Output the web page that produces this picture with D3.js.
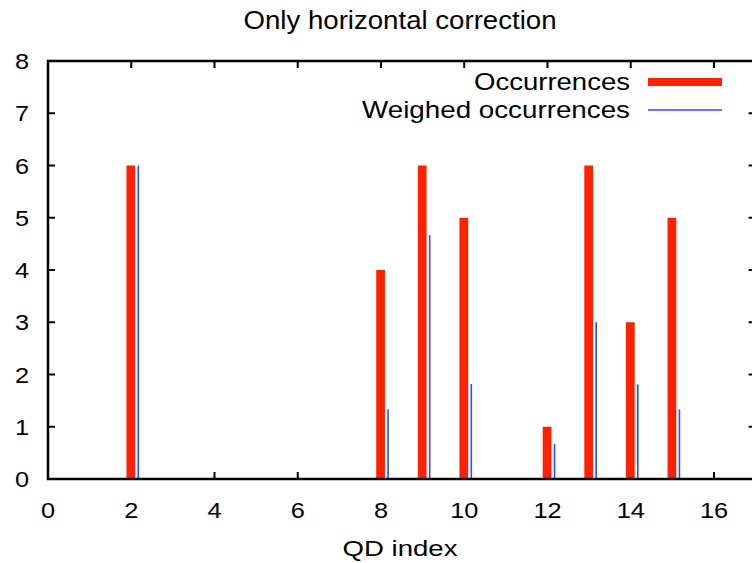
<!DOCTYPE html>
<html><head><meta charset="utf-8">
<script src="https://cdn.jsdelivr.net/npm/d3@7"></script>
<style>body{margin:0;background:#fff}svg{display:block}text{font-family:"Liberation Sans",Arial,sans-serif;fill:#000}</style>
</head><body><svg id="c" width="752" height="563"></svg>
<script>
const qdIndex = [2, 8, 9, 10, 12, 13, 14, 15];
const occurrences = [6, 4, 6, 5, 1, 6, 3, 5];
const weighedOccurrences = [6, 1.333, 4.667, 1.82, 0.667, 3, 1.81, 1.333];
const xTicks = [0, 2, 4, 6, 8, 10, 12, 14, 16];
const yTicks = [0, 1, 2, 3, 4, 5, 6, 7, 8];
const seriesNames = ["Occurrences", "Weighed occurrences"];
const colors = ["#ff2200", "#2a4cff"];

const svg = d3.select("#c");
const L = 48, R = 755.6, T = 61, B = 479;
const x = d3.scaleLinear().domain([0, 17]).range([L, R]);
const y = d3.scaleLinear().domain([0, 8]).range([B, T]);

function stretch(sel, f) {
  sel.each(function () {
    const w = this.getComputedTextLength();
    d3.select(this).attr("textLength", w * f).attr("lengthAdjust", "spacingAndGlyphs");
  });
}

// ticks (inward, mirrored)
const tk = svg.append("g").attr("stroke", "#000").attr("stroke-width", 2);
xTicks.forEach(t => {
  tk.append("line").attr("x1", x(t)).attr("x2", x(t)).attr("y1", B).attr("y2", B - 7);
  tk.append("line").attr("x1", x(t)).attr("x2", x(t)).attr("y1", T).attr("y2", T + 7);
});
yTicks.forEach(t => {
  tk.append("line").attr("x1", L).attr("x2", L + 7).attr("y1", y(t)).attr("y2", y(t));
  tk.append("line").attr("x1", R).attr("x2", R - 7).attr("y1", y(t)).attr("y2", y(t));
});

// bars
const g = svg.append("g");
qdIndex.forEach((c, i) => {
  g.append("rect")
    .attr("x", x(c - 0.115)).attr("width", x(c + 0.095) - x(c - 0.115))
    .attr("y", y(occurrences[i])).attr("height", y(0) - y(occurrences[i]))
    .attr("fill", colors[0]);
  g.append("line")
    .attr("x1", x(c + 0.17)).attr("x2", x(c + 0.17))
    .attr("y1", y(0)).attr("y2", y(weighedOccurrences[i]))
    .attr("stroke", colors[1]).attr("stroke-width", 1.6);
});

svg.append("rect").attr("x", L).attr("y", T).attr("width", R - L).attr("height", B - T)
  .attr("fill", "none").attr("stroke", "#000").attr("stroke-width", 2.5);

// tick labels
const xl = svg.append("g").selectAll("text").data(xTicks).join("text")
  .attr("x", d => x(d)).attr("y", 518).attr("text-anchor", "middle")
  .attr("font-size", 22).text(d => d);
stretch(xl, 1.15);
const yl = svg.append("g").selectAll("text").data(yTicks).join("text")
  .attr("x", 29).attr("y", d => y(d) + 8).attr("text-anchor", "end")
  .attr("font-size", 22).text(d => d);
stretch(yl, 1.15);

// title & axis label
svg.append("text").attr("x", 400).attr("y", 29).attr("text-anchor", "middle")
  .attr("font-size", 25).attr("textLength", 313).attr("lengthAdjust", "spacingAndGlyphs")
  .text("Only horizontal correction");
svg.append("text").attr("x", 400).attr("y", 556).attr("text-anchor", "middle")
  .attr("font-size", 22).attr("textLength", 115).attr("lengthAdjust", "spacingAndGlyphs")
  .text("QD index");

// legend
const lg = svg.append("g");
lg.append("text").attr("x", 630).attr("y", 90).attr("text-anchor", "end").attr("font-size", 24)
  .attr("textLength", 156).attr("lengthAdjust", "spacingAndGlyphs").text(seriesNames[0]);
lg.append("line").attr("x1", 648).attr("x2", 722).attr("y1", 82).attr("y2", 82).attr("stroke", colors[0]).attr("stroke-width", 8);
lg.append("text").attr("x", 630).attr("y", 118).attr("text-anchor", "end").attr("font-size", 24)
  .attr("textLength", 268).attr("lengthAdjust", "spacingAndGlyphs").text(seriesNames[1]);
lg.append("line").attr("x1", 648).attr("x2", 722).attr("y1", 110).attr("y2", 110).attr("stroke", colors[1]).attr("stroke-width", 1.6);
</script></body></html>
